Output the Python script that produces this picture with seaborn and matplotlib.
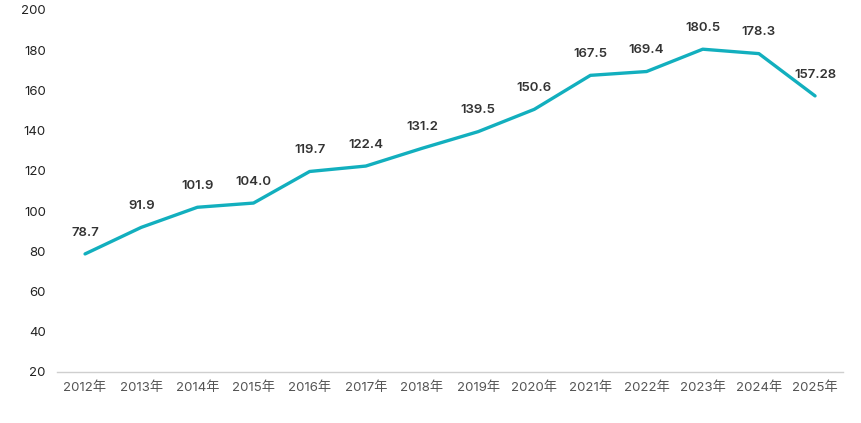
import matplotlib
matplotlib.use("Agg")
import matplotlib.pyplot as plt
import seaborn as sns
import pandas as pd

years = ["2012年", "2013年", "2014年", "2015年", "2016年", "2017年", "2018年",
         "2019年", "2020年", "2021年", "2022年", "2023年", "2024年", "2025年"]
values = [78.7, 91.9, 101.9, 104.0, 119.7, 122.4, 131.2, 139.5, 150.6, 167.5,
          169.4, 180.5, 178.3, 157.28]
labels = ["78.7", "91.9", "101.9", "104.0", "119.7", "122.4", "131.2", "139.5",
          "150.6", "167.5", "169.4", "180.5", "178.3", "157.28"]
yticks = [20, 40, 60, 80, 100, 120, 140, 160, 180, 200]

sns.set_style("white")
plt.rcParams['font.family'] = ['Inter', 'Noto Sans CJK SC', 'DejaVu Sans']

df = pd.DataFrame({"year": years, "value": values})

fig = plt.figure(figsize=(8.62, 4.23), dpi=100)
ax = fig.add_axes([0.0661, 0.1206, 0.912, 0.8558])

sns.lineplot(data=df, x="year", y="value", ax=ax, color="#12AFBE",
             linewidth=2.4, sort=False)

ax.set_xlim(-0.5, len(years) - 0.5)
ax.set_ylim(20, 200)
ax.set_yticks(yticks)
ax.set_yticklabels([str(t) for t in yticks])
ax.set_xlabel("")
ax.set_ylabel("")

for s in ["top", "right", "left"]:
    ax.spines[s].set_visible(False)
ax.spines["bottom"].set_color("#cfcfcf")
ax.spines["bottom"].set_linewidth(1.0)

ax.tick_params(axis="y", length=0, pad=8, labelsize=9.5, labelcolor="#222222")
ax.tick_params(axis="x", length=0, pad=7, labelsize=9.5, labelcolor="#555555")

for i, (v, lab) in enumerate(zip(values, labels)):
    ax.annotate(lab, (i, v), xytext=(0, 11), textcoords="offset points",
                ha="center", va="bottom", fontsize=9.5, color="#333333",
                fontweight="semibold")

fig.savefig("out.png", dpi=100)
